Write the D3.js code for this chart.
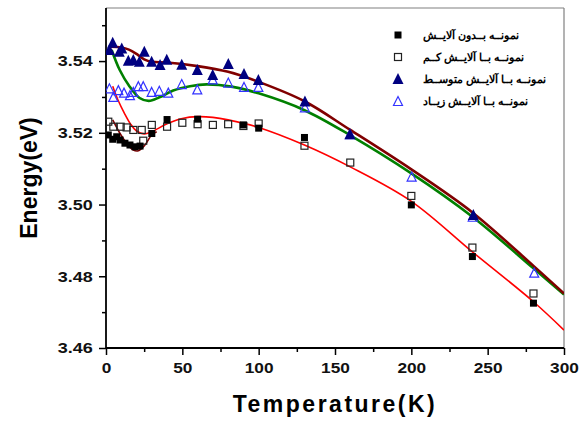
<!DOCTYPE html>
<html><head><meta charset="utf-8">
<script src="https://cdn.jsdelivr.net/npm/d3@7"></script>
<style>body{margin:0;background:#fff}svg{display:block}text{font-family:"Liberation Sans",Arial,sans-serif}</style>
</head><body><svg id="c" width="586" height="423"></svg>
<script>
// ---- data ----
const xTicks=[0,50,100,150,200,250,300];
const yTicks=[3.46,3.48,3.50,3.52,3.54];
const legendLabels=["نمونــه بــدون آلایــش","نمونــه بــا آلایــش کــم","نمونــه بــا آلایــش متوســط","نمونــه بــا آلایــش زیــاد"];

const sqFilledT=[1.5,4.4,7,9.2,12.4,15.7,19,22.3,30,40,60,90,100,130,200,240,280];
const sqFilledE=[3.5194,3.5182,3.5189,3.5180,3.5171,3.5166,3.5161,3.5163,3.5198,3.5237,3.5238,3.5222,3.5213,3.5187,3.4999,3.4855,3.4725];

const sqOpenT=[1.5,4.8,9.6,13.5,17.9,23.4,24.4,30,40,50,60,70,80,90,100,130,160,200,240,280];
const sqOpenE=[3.5231,3.5217,3.5217,3.5215,3.5208,3.5208,3.5178,3.5222,3.5217,3.5228,3.5224,3.5222,3.5224,3.5219,3.5226,3.5164,3.5117,3.5024,3.4880,3.4752];

const triFilledT=[2.2,4.4,8.7,10.3,14.6,17.9,21.8,25.1,29.9,35.4,39.8,49.6,59.8,69.9,80.1,90.4,99.8,130.3,159.8,240.6];
const triFilledE=[3.5431,3.5451,3.5426,3.5435,3.5401,3.5403,3.5398,3.5426,3.5398,3.5389,3.5404,3.5390,3.5375,3.5361,3.5392,3.5364,3.5347,3.5287,3.5196,3.4971];

const triOpenT=[2.2,4.8,8.1,11.8,15.7,17.9,21.2,24.4,29.9,34.9,40.8,49.6,59.8,69.9,80.1,90.4,99.8,130.3,159.8,200.2,240.2,280.5];
const triOpenE=[3.5324,3.5300,3.5319,3.5312,3.5305,3.5314,3.5330,3.5330,3.5314,3.5317,3.5312,3.5336,3.5321,3.5349,3.5340,3.5328,3.5328,3.5271,3.5196,3.5078,3.4966,3.4810];

// fitted curves
const fitMaroonT=[3,10,15,20,25,30,40,60,80,100,130,160,200,240,280,300];
const fitMaroonE=[3.5440,3.5438,3.5432,3.5420,3.5405,3.5398,3.5396,3.5386,3.5370,3.5342,3.5288,3.5208,3.5098,3.4978,3.4829,3.4752];
const fitGreenT=[3.7,9,15,22,28,35,44,55,66,83,100,130,160,200,240,280,300];
const fitGreenE=[3.5431,3.5375,3.5332,3.5297,3.5289,3.5299,3.5318,3.5330,3.5335,3.5328,3.5310,3.5263,3.5193,3.5087,3.4966,3.4822,3.4749];
const fitRedT=[4.4,8,12,16,20,25,30,40,50,60,70,80,100,130,160,200,240,280,300];
const fitRedE=[3.5330,3.5290,3.5255,3.5225,3.5205,3.5197,3.5203,3.5225,3.5240,3.5245,3.5243,3.5236,3.5215,3.5166,3.5105,3.5009,3.4868,3.4729,3.4650];
const fitDipT=[4.4,9.2,13.5,17.9,21.2,25.5,29.9,33.2];
const fitDipE=[3.5236,3.5198,3.5171,3.5152,3.5150,3.5166,3.5194,3.5203];

// ---- chart ----
const svg=d3.select("#c");
const L=106,R=564,T=8,B=348;
const x=d3.scaleLinear().domain([0,300]).range([L,R]);
const y=d3.scaleLinear().domain([3.46,3.5548]).range([B,T]);
const zip=(a,b)=>a.map((v,i)=>[v,b[i]]);

svg.append("clipPath").attr("id","cp").append("rect").attr("x",L).attr("y",T).attr("width",R-L).attr("height",B-T);

// frame
svg.append("line").attr("x1",L).attr("x2",R).attr("y1",T).attr("y2",T).attr("stroke","#808080").attr("stroke-width",1.2);
svg.append("line").attr("x1",R).attr("x2",R).attr("y1",T).attr("y2",B).attr("stroke","#808080").attr("stroke-width",1.2);

// axes
const xAxis=d3.axisBottom(x).tickValues(d3.range(0,301,25)).tickSize(6).tickFormat(d=>xTicks.includes(d)?d:"");
const gx=svg.append("g").attr("transform",`translate(0,${B})`).call(xAxis);
gx.selectAll(".tick line").attr("y2",d=>xTicks.includes(d)?7:4).attr("stroke-width",1.5);
gx.select(".domain").attr("stroke-width",1.8).attr("d",`M${L},0H${R}`);
gx.selectAll("text").attr("x",0).attr("y",14).attr("font-size",15).attr("font-weight","bold").attr("fill","#111").attr("transform","scale(1.15,1)");

const yAll=d3.range(0,10).map(i=>+(3.46+i*0.01).toFixed(2));
const yAxis=d3.axisLeft(y).tickValues(yAll).tickSize(6).tickFormat(d=>yTicks.some(t=>Math.abs(t-d)<1e-6)?d3.format(".2f")(d):"");
const gy=svg.append("g").attr("transform",`translate(${L},0)`).call(yAxis);
gy.selectAll(".tick line").attr("x2",d=>yTicks.some(t=>Math.abs(t-d)<1e-6)?-7:-4).attr("stroke-width",1.5);
gy.select(".domain").attr("stroke-width",1.8).attr("d",`M0,${B}V${T}`);
gy.selectAll("text").attr("x",-11).attr("font-size",15).attr("font-weight","bold").attr("fill","#111").attr("transform","scale(1.2,1)");

// titles
svg.append("text").attr("x",(L+R)/2).attr("y",412).attr("text-anchor","middle").attr("font-size",23).attr("font-weight","bold").attr("letter-spacing","2.5px").text("Temperature(K)");
svg.append("text").attr("transform","translate(37,178) rotate(-90)").attr("text-anchor","middle").attr("font-size",23).attr("font-weight","bold").text("Energy(eV)");

// curves
const line=d3.line().x(d=>x(d[0])).y(d=>y(d[1])).curve(d3.curveCatmullRom.alpha(0.5));
const plot=svg.append("g").attr("clip-path","url(#cp)");
plot.append("path").attr("d",line(zip(fitRedT,fitRedE))).attr("fill","none").attr("stroke","#ff0000").attr("stroke-width",1.6);
plot.append("path").attr("d",line(zip(fitDipT,fitDipE))).attr("fill","none").attr("stroke","#800000").attr("stroke-width",1.6);
plot.append("path").attr("d",line(zip(fitGreenT,fitGreenE))).attr("fill","none").attr("stroke","#008000").attr("stroke-width",2.6);
plot.append("path").attr("d",line(zip(fitMaroonT,fitMaroonE))).attr("fill","none").attr("stroke","#800000").attr("stroke-width",2.6);

// markers
const sq=7, tw=11, th=10;
const triPath=`M0,${-th/2-1}L${tw/2},${th/2}L${-tw/2},${th/2}Z`;
const triOpenPath=`M0,${-th/2+0.5}L${tw/2-1},${th/2-0.5}L${-tw/2+1},${th/2-0.5}Z`;
plot.selectAll(".so").data(zip(sqOpenT,sqOpenE)).join("rect").attr("x",d=>x(d[0])-sq/2).attr("y",d=>y(d[1])-sq/2).attr("width",sq).attr("height",sq).attr("fill","none").attr("stroke","#222").attr("stroke-width",1.2);
plot.selectAll(".sf").data(zip(sqFilledT,sqFilledE)).join("rect").attr("x",d=>x(d[0])-sq/2).attr("y",d=>y(d[1])-sq/2).attr("width",sq).attr("height",sq).attr("fill","#000");
plot.selectAll(".to").data(zip(triOpenT,triOpenE)).join("path").attr("d",triOpenPath).attr("transform",d=>`translate(${x(d[0])},${y(d[1])})`).attr("fill","none").attr("stroke","#3333ff").attr("stroke-width",1.2);
plot.selectAll(".tf").data(zip(triFilledT,triFilledE)).join("path").attr("d",triPath).attr("transform",d=>`translate(${x(d[0])},${y(d[1])})`).attr("fill","#000080");

// legend
const legY=[35,57,79,101];
const lg=svg.append("g");
lg.append("rect").attr("x",398-sq/2).attr("y",legY[0]-sq/2).attr("width",sq).attr("height",sq).attr("fill","#000");
lg.append("rect").attr("x",398-sq/2).attr("y",legY[1]-sq/2).attr("width",sq).attr("height",sq).attr("fill","none").attr("stroke","#222").attr("stroke-width",1.2);
lg.append("path").attr("d",triPath).attr("transform",`translate(398,${legY[2]})`).attr("fill","#000080");
lg.append("path").attr("d",triOpenPath).attr("transform",`translate(398,${legY[3]})`).attr("fill","none").attr("stroke","#3333ff").attr("stroke-width",1.2);
legendLabels.forEach((t,i)=>{
  lg.append("text").attr("x",423).attr("y",legY[i]+4).attr("font-size",11).attr("font-weight","bold").attr("font-family","'DejaVu Sans',sans-serif").text(t);
});
</script></body></html>
